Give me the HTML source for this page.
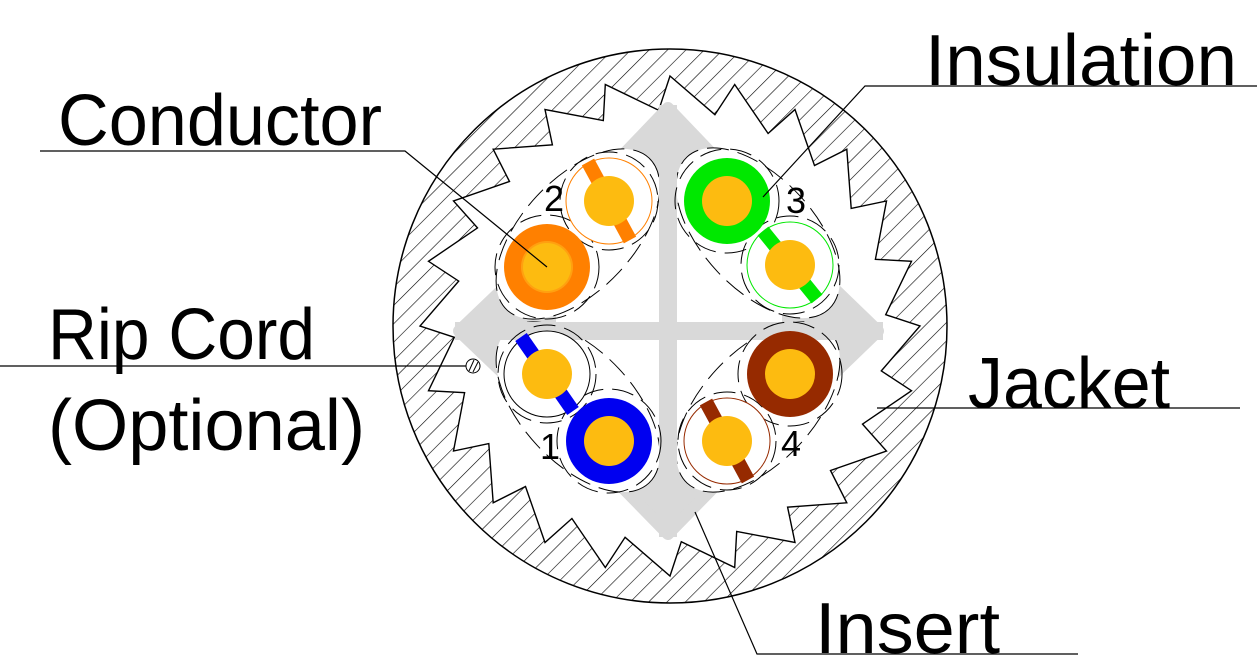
<!DOCTYPE html>
<html><head><meta charset="utf-8"><style>html,body{margin:0;padding:0;background:#fff;overflow:hidden}svg{display:block}</style></head>
<body>
<svg id="s" width="1257" height="669" viewBox="0 0 1257 669" xmlns="http://www.w3.org/2000/svg" font-family="Liberation Sans, DejaVu Sans, sans-serif">
<defs>
<pattern id="h" width="13" height="13" patternUnits="userSpaceOnUse" patternTransform="rotate(45)">
<line x1="0" y1="0" x2="0" y2="13" stroke="#000" stroke-width="1.2"/>
</pattern>
</defs>
<circle cx="670" cy="326" r="277" fill="#fff"/>
<circle cx="670" cy="326" r="277" fill="url(#h)" stroke="#000" stroke-width="1.5"/>
<polygon id="star" fill="#fff" stroke="#000" stroke-width="1.4"/>
<!-- arrowheads -->
<g fill="#d9d9d9" stroke="#d9d9d9" stroke-linejoin="round" stroke-width="12">
<polygon points="668,108 580,200 756,200"/>
<polygon points="668,534 580,444 756,444"/>
<polygon points="459,331 550,244 550,418"/>
<polygon points="878,331 788,244 788,418"/>
</g>
<!-- pair ellipses -->
<g fill="#fff" stroke="#000" stroke-width="1" stroke-dasharray="22 9">
<ellipse cx="578" cy="234" rx="104" ry="56" transform="rotate(-47 578 234)"/>
<ellipse cx="758" cy="233" rx="104" ry="56" transform="rotate(47 758 233)"/>
<ellipse cx="578" cy="407" rx="104" ry="56" transform="rotate(47 578 407)"/>
<ellipse cx="758" cy="407" rx="104" ry="56" transform="rotate(-47 758 407)"/>
</g>
<rect x="659" y="105" width="18" height="432" fill="#d9d9d9"/>
<rect x="455" y="322" width="428" height="18" fill="#d9d9d9"/>
<!-- dashed circles -->
<g fill="none" stroke="#000" stroke-width="1" stroke-dasharray="22 9">
<circle cx="547" cy="267" r="52"/><circle cx="609" cy="201" r="49"/>
<circle cx="727" cy="201" r="52"/><circle cx="790" cy="265" r="49"/>
<circle cx="547" cy="374" r="49"/><circle cx="609" cy="441" r="52"/>
<circle cx="790" cy="374" r="52"/><circle cx="727" cy="441" r="49"/>
</g>
<!-- solid conductors -->
<circle cx="547" cy="267" r="43" fill="#ff8000"/><circle cx="547" cy="267" r="26" fill="#ffa010"/><circle cx="547" cy="267" r="24" fill="#fdbb10"/>
<circle cx="727" cy="201" r="43" fill="#00e800"/><circle cx="727" cy="201" r="25" fill="#fdbb10"/>
<circle cx="609" cy="441" r="43" fill="#0000f0"/><circle cx="609" cy="441" r="25" fill="#fdbb10"/>
<circle cx="790" cy="374" r="43" fill="#962a00"/><circle cx="790" cy="374" r="25" fill="#fdbb10"/>
<!-- striped -->
<g stroke-width="14">
<circle cx="609" cy="201" r="43" fill="#fff" stroke="#ff8000" stroke-width="1"/>
<line x1="601" y1="186" x2="588" y2="162" stroke="#ff8000"/><line x1="617" y1="216" x2="630" y2="240" stroke="#ff8000"/>
<circle cx="609" cy="201" r="25" fill="#fdbb10"/>
<circle cx="790" cy="265" r="43" fill="#fff" stroke="#00e800" stroke-width="1"/>
<line x1="780" y1="252" x2="763" y2="231" stroke="#00e800"/><line x1="800" y1="278" x2="817" y2="299" stroke="#00e800"/>
<circle cx="790" cy="265" r="25" fill="#fdbb10"/>
<circle cx="547" cy="374" r="43" fill="#fff" stroke="#000" stroke-width="1"/>
<line x1="537" y1="360" x2="521" y2="337" stroke="#0000f0"/><line x1="557" y1="388" x2="573" y2="411" stroke="#0000f0"/>
<circle cx="547" cy="374" r="25" fill="#fdbb10"/>
<circle cx="727" cy="441" r="43" fill="#fff" stroke="#962a00" stroke-width="1"/>
<line x1="719" y1="426" x2="706" y2="402" stroke="#962a00"/><line x1="735" y1="456" x2="748" y2="480" stroke="#962a00"/>
<circle cx="727" cy="441" r="25" fill="#fdbb10"/>
</g>
<!-- rip cord -->
<circle cx="473" cy="366" r="7" fill="#fff" stroke="#000" stroke-width="1"/>
<line x1="469" y1="371" x2="474" y2="360" stroke="#000"/><line x1="473" y1="372" x2="478" y2="362" stroke="#000"/>
<g font-size="36" fill="#000">
<text x="544" y="211">2</text><text x="786" y="213">3</text><text x="540" y="459">1</text><text x="781" y="456">4</text>
</g>
<!-- leaders -->
<g stroke="#000" stroke-width="1.2" fill="none">
<polyline points="40,151 405,151 547,267"/>
<polyline points="1257,86 865,86 763,197"/>
<polyline points="0,366 466,366"/>
<polyline points="877,408 1240,408"/>
<polyline points="695,512 757,654 1078,654"/>
</g>
<g font-size="72" fill="#000">
<text x="58" y="145" textLength="324" lengthAdjust="spacingAndGlyphs">Conductor</text>
<text x="925" y="85" textLength="312" lengthAdjust="spacingAndGlyphs">Insulation</text>
<text x="48" y="359" textLength="267" lengthAdjust="spacingAndGlyphs">Rip Cord</text>
<text x="48" y="450" textLength="317" lengthAdjust="spacingAndGlyphs">(Optional)</text>
<text x="968" y="408" textLength="202" lengthAdjust="spacingAndGlyphs">Jacket</text>
<text x="815" y="653" textLength="185" lengthAdjust="spacingAndGlyphs">Insert</text>
</g>
</svg>
<script>
var cx=670,cy=326,n=24,p=[];
for(var i=0;i<n;i++){
 var a=(i/n)*2*Math.PI-Math.PI/2;
 var b=((i+0.8)/n)*2*Math.PI-Math.PI/2;
 p.push((cx+250*Math.cos(a)).toFixed(1)+","+(cy+250*Math.sin(a)).toFixed(1));
 p.push((cx+216*Math.cos(b)).toFixed(1)+","+(cy+216*Math.sin(b)).toFixed(1));
}
document.getElementById("star").setAttribute("points",p.join(" "));
</script>
</body></html>
